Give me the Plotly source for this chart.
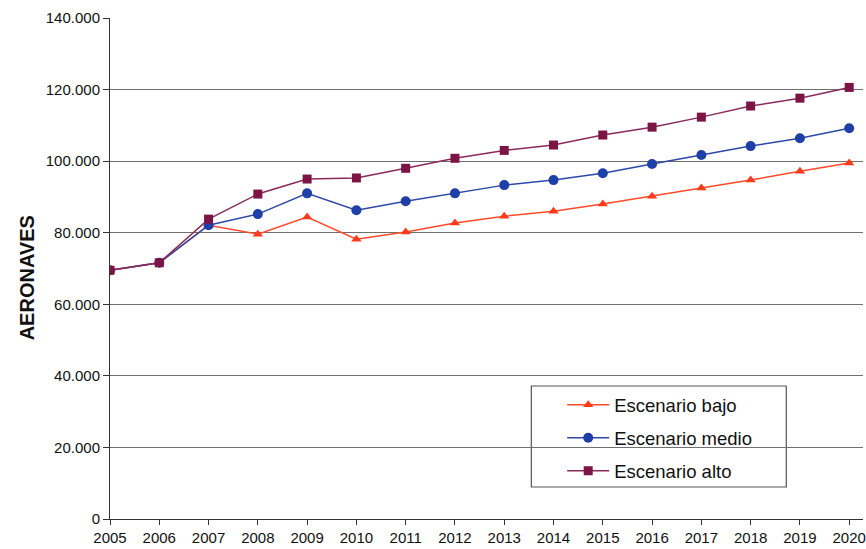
import plotly.graph_objects as go

years = list(range(2005, 2021))
bajo = [69500, 71600, 82100, 79600, 84400, 78200, 80200, 82700, 84600, 86000, 88000, 90200, 92500, 94700, 97200, 99500]
medio = [69500, 71600, 82100, 85200, 91000, 86300, 88800, 91000, 93300, 94700, 96600, 99200, 101700, 104200, 106400, 109200]
alto = [69500, 71600, 83800, 90800, 95000, 95300, 98000, 100800, 103000, 104500, 107300, 109500, 112300, 115400, 117600, 120600]
y_ticks = [0, 20000, 40000, 60000, 80000, 100000, 120000, 140000]
y_labels = ["0", "20.000", "40.000", "60.000", "80.000", "100.000", "120.000", "140.000"]

fig = go.Figure()
fig.add_trace(go.Scatter(x=years, y=bajo, name="Escenario bajo", mode="lines+markers",
                         line=dict(color="#ff4a2a", width=1.5),
                         marker=dict(symbol="triangle-up", size=9, color="#ff3a1a"),
                         legendgroup="a"))
fig.add_trace(go.Scatter(x=years, y=medio, name="Escenario medio", mode="lines+markers",
                         line=dict(color="#2c48a8", width=1.5),
                         marker=dict(symbol="circle", size=10, color="#1f3fa8"),
                         legendgroup="b"))
fig.add_trace(go.Scatter(x=years, y=alto, name="Escenario alto", mode="lines+markers",
                         line=dict(color="#8a2a5a", width=1.5),
                         marker=dict(symbol="square", size=9, color="#7d1446"),
                         legendgroup="c"))

fig.update_layout(
    width=866, height=549,
    margin=dict(l=110, r=0, t=18, b=30),
    paper_bgcolor="white", plot_bgcolor="white",
    font=dict(family="Liberation Sans, Arial, sans-serif", color="#111111", size=15),
    showlegend=True,
    legend=dict(x=(564 - 110) / 756, y=0.265, xanchor="left", yanchor="top",
                bgcolor="rgba(0,0,0,0)", borderwidth=0,
                font=dict(size=18.5, color="#111111"), itemwidth=42,
                traceorder="grouped", tracegroupgap=6),
    shapes=[dict(type="rect", xref="paper", yref="paper",
                 x0=(533 - 110) / 756, x1=(789 - 110) / 756,
                 y0=(519 - 487) / 501, y1=(519 - 386) / 501,
                 line=dict(color="#555555", width=1.2), fillcolor="white", layer="below")],
    annotations=[dict(text="<b>AERONAVES</b>", xref="paper", yref="paper",
                      x=(27 - 110) / 756, y=0.481, textangle=-90, showarrow=False,
                      font=dict(size=20, color="#111111"), xanchor="center", yanchor="middle")],
)
fig.update_xaxes(range=[2005, 2020.28], tickvals=years, ticktext=[str(y) for y in years],
                 showgrid=False, showline=True, linecolor="#333333", linewidth=1,
                 ticks="outside", ticklen=5, tickcolor="#333333", zeroline=False,
                 tickfont=dict(size=15), ticklabeloverflow="allow")
fig.update_yaxes(range=[0, 140000], tickvals=y_ticks, ticktext=y_labels,
                 showgrid=True, gridcolor="#6f6f6f", gridwidth=1,
                 showline=True, linecolor="#333333", linewidth=1,
                 ticks="outside", ticklen=6, tickcolor="#333333", zeroline=False,
                 tickfont=dict(size=15))

fig.write_html("out.html")
